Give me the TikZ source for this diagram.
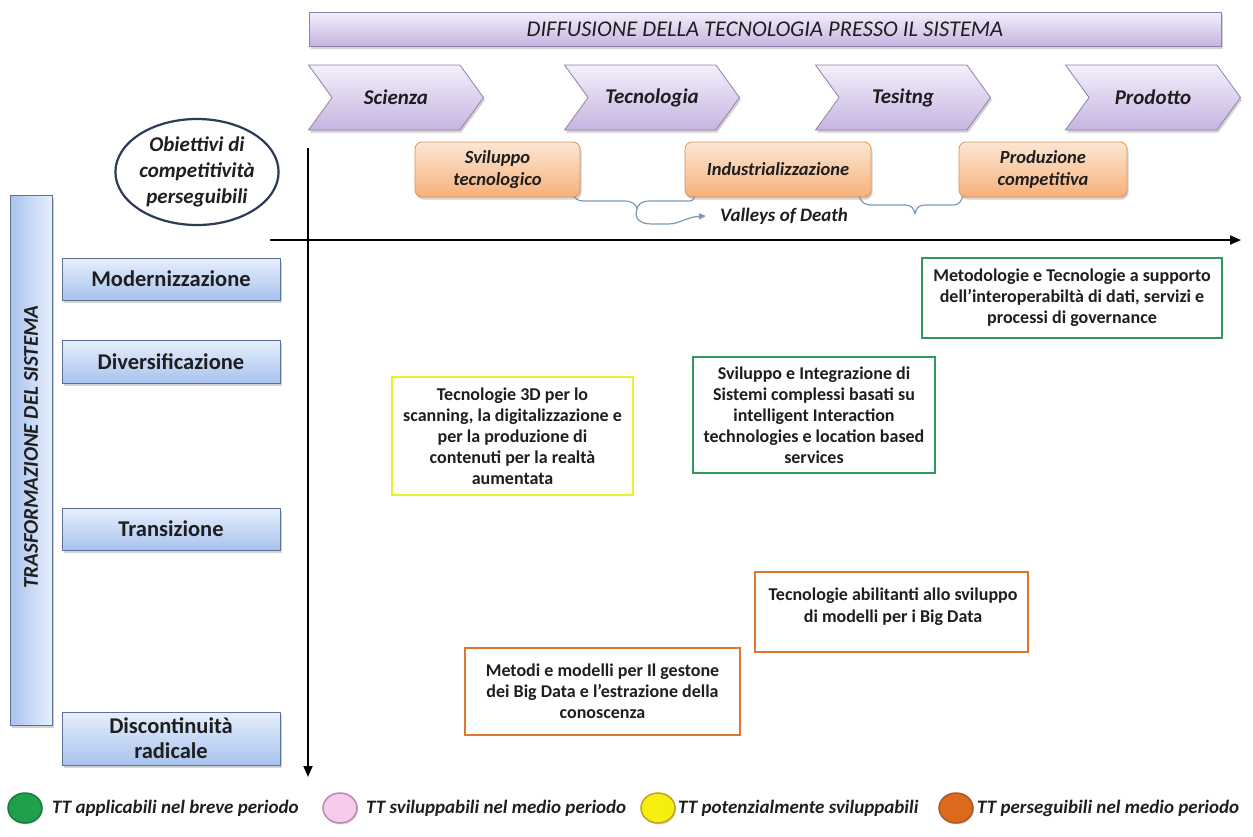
\documentclass[tikz,border=0pt]{standalone}
\usepackage{fontspec}
\setmainfont{Carlito}
\usetikzlibrary{shapes.symbols,shapes.geometric,shadows,arrows.meta,calc}
\definecolor{lavtop}{HTML}{F4EFFB}
\definecolor{lavbot}{HTML}{C6B4E0}
\definecolor{lavedge}{HTML}{8E82A8}
\definecolor{peachtop}{HTML}{FDE7D4}
\definecolor{peachbot}{HTML}{F6B07A}
\definecolor{peachedge}{HTML}{D7935D}
\definecolor{bluetop}{HTML}{E6EFFD}
\definecolor{bluebot}{HTML}{A8C3EE}
\definecolor{blueedge}{HTML}{5D7194}
\definecolor{navy}{HTML}{2B3A55}
\definecolor{ttgreen}{HTML}{2E9A5C}
\definecolor{ttyellow}{HTML}{EAF02C}
\definecolor{ttorange}{HTML}{DF772F}
\definecolor{bracecol}{HTML}{7E98B4}
\definecolor{txt}{HTML}{1E1E1E}
\definecolor{lgreen}{HTML}{1FA04A}
\definecolor{lgreenedge}{HTML}{1A7A3A}
\definecolor{lpink}{HTML}{F7CBEA}
\definecolor{lpinkedge}{HTML}{B98AB0}
\definecolor{lyellow}{HTML}{F6EE10}
\definecolor{lyellowedge}{HTML}{C2A41A}
\definecolor{lorange}{HTML}{DD6A1C}
\definecolor{lorangeedge}{HTML}{A75A2A}
\begin{document}
\begin{tikzpicture}[x=1pt,y=-1pt,
  softshadow/.style={drop shadow={opacity=0.35,shadow xshift=1.5pt,shadow yshift=-2.5pt}},
  lavbar/.style={draw=lavedge,line width=0.8pt,top color=lavtop,bottom color=lavbot,inner sep=0pt,softshadow,text=txt},
  chev/.style={lavbar,shape=signal,signal to=east,signal from=west,signal pointer angle=108,minimum width=175pt,minimum height=65pt,font=\fontsize{21}{24}\selectfont\bfseries\itshape},
  peachbox/.style={draw=peachedge,line width=0.8pt,rounded corners=7pt,top color=peachtop,bottom color=peachbot,minimum height=55pt,inner sep=0pt,align=center,softshadow,text=txt,font=\fontsize{18.5}{22}\selectfont\bfseries\itshape},
  bluebox/.style={draw=blueedge,line width=0.8pt,top color=bluetop,bottom color=bluebot,minimum width=218pt,inner sep=0pt,align=center,softshadow,text=txt,font=\fontsize{22.5}{25}\selectfont\bfseries},
  ttbox/.style={draw=#1,line width=2.5pt,fill=white,inner sep=0pt,align=center,text=txt,font=\fontsize{18}{21}\selectfont\bfseries},
  ttlabel/.style={text=txt,align=center,font=\fontsize{18}{22}\selectfont\bfseries},
  axis/.style={line width=1.8pt,black,-{Triangle[length=11pt,width=9pt]}},
  bracepath/.style={draw=bracecol,line width=1.2pt},
  legdot/.style={shape=ellipse,minimum width=34pt,minimum height=30pt,inner sep=0pt,line width=1.5pt,drop shadow={opacity=0.3,shadow xshift=1pt,shadow yshift=-1.5pt}},
  legtxt/.style={anchor=west,inner sep=0pt,text=txt,font=\fontsize{19}{21}\selectfont\bfseries\itshape}
]
\useasboundingbox (0,0) rectangle (1253,836);

% title bar
\node[lavbar,minimum width=912pt,minimum height=34pt,font=\fontsize{22.5}{24}\selectfont\itshape] (title) at (765,29) {DIFFUSIONE DELLA TECNOLOGIA PRESSO IL SISTEMA};

% chevrons
\node[chev] (scienza) at (396,97.5) {\raisebox{-2pt}{Scienza}};
\node[chev] (tecno) at (652,97.5) {\raisebox{3pt}{Tecnologia}};
\node[chev] (testing) at (903,97.5) {\raisebox{-2pt}{Tesitng}};
\node[chev] (prodotto) at (1153,97.5) {\raisebox{-2pt}{Prodotto}};

% objectives ellipse
\node[shape=ellipse,draw=navy,line width=2.2pt,fill=white,minimum width=156pt,minimum height=106pt,inner sep=0pt,align=center,text=txt,font=\fontsize{21}{26}\selectfont\bfseries\itshape] (obiettivi) at (197,172) {Obiettivi di\\competitività\\perseguibili};

% phase boxes
\node[peachbox,minimum width=165pt] (svil) at (497.5,169.5) {Sviluppo\\tecnologico};
\node[peachbox,minimum width=186pt] (indu) at (778,169.5) {Industrializzazione};
\node[peachbox,minimum width=168pt] (prod) at (1043,169.5) {Produzione\\competitiva};

% braces (valleys of death)
\coordinate (b1l) at ($(svil.south east)+(-6,-1)$);
\coordinate (b1r) at ($(indu.south west)+(10,-1)$);
\coordinate (b1t) at (637,209);
\path[bracepath] (b1l) .. controls +(2,5) and +(-6,0) .. (588,201) -- (624,201) .. controls (632,201) and (636,204) .. (b1t);
\path[bracepath] (b1r) .. controls +(-2,5) and +(6,0) .. (686,201) -- (650,201) .. controls (642,201) and (638,204) .. (b1t);
\node[font=\fontsize{19}{21}\selectfont\bfseries\itshape,text=txt,anchor=west,inner sep=0pt] (valleys) at (720,216) {Valleys of Death};
\draw[bracepath,-{Triangle[length=7pt,width=6pt]}] (b1t) .. controls (634,218) and (639,224) .. (652,224) -- (668,224) .. controls (680,224) and (686,217) .. ([xshift=-14pt]valleys.west);
\coordinate (b2l) at ($(indu.south east)+(-12,-1)$);
\coordinate (b2r) at ($(prod.south west)+(4,-1)$);
\coordinate (b2t) at (915,214);
\path[bracepath] (b2l) .. controls +(2,7) and +(-6,0) .. (872,205) -- (905,205) .. controls (911,205) and (914,208) .. (b2t);
\path[bracepath] (b2r) .. controls +(-2,7) and +(6,0) .. (952,205) -- (925,205) .. controls (919,205) and (916,208) .. (b2t);

% axes
\coordinate (vtop) at (308,148);
\coordinate (vbot) at (308,777);
\coordinate (hleft) at (270,240);
\coordinate (hright) at (1241,240);
\draw[axis] (vtop) -- (vbot);
\draw[axis] (hleft) -- (hright);

% left vertical bar
\node[draw=blueedge,line width=0.8pt,left color=bluebot,right color=bluetop,inner sep=0pt,softshadow,minimum width=42pt,minimum height=530pt] (trasf) at (31,460) {};
\node[rotate=90,text=txt,font=\fontsize{21}{23}\selectfont\bfseries\itshape,inner sep=0pt] (trasflabel) at ($(trasf.center)+(0,-13)$) {TRASFORMAZIONE DEL SISTEMA};

% levels
\node[bluebox,minimum height=42pt] (moder) at (171,279) {Modernizzazione};
\node[bluebox,minimum height=43pt] (diver) at (171,361.5) {Diversificazione};
\node[bluebox,minimum height=42pt] (trans) at (171,529) {Transizione};
\node[bluebox,minimum height=53pt] (disco) at (171,738.5) {Discontinuità\\radicale};

% technology boxes
\node[ttbox=ttgreen,minimum width=300pt,minimum height=80pt] (g1) at (1072,298) {Metodologie e Tecnologie a supporto\\dell’interoperabiltà di dati, servizi e\\processi di governance};
\node[ttbox=ttgreen,minimum width=242pt,minimum height=116pt] (g2) at (814,415) {Sviluppo e Integrazione di\\Sistemi complessi basati su\\intelligent Interaction\\technologies e location based\\services};
\node[ttbox=ttyellow,minimum width=241pt,minimum height=118pt] (y1) at (512.5,436) {Tecnologie 3D per lo\\scanning, la digitalizzazione e\\per la produzione di\\contenuti per la realtà\\aumentata};
\node[ttbox=ttorange,minimum width=273pt,minimum height=80pt] (o1) at (891.5,612) {};
\node[ttlabel] (o1t) at (893,607) {Tecnologie abilitanti allo sviluppo\\di modelli per i Big Data};
\node[ttbox=ttorange,minimum width=275pt,minimum height=87pt] (o2) at (602.5,691.5) {Metodi e modelli per Il gestone\\dei Big Data e l’estrazione della\\conoscenza};

% legend
\node[legdot,fill=lgreen,draw=lgreenedge] (d1) at (25,808) {};
\node[legtxt] (l1) at (52,808) {TT applicabili nel breve periodo};
\node[legdot,fill=lpink,draw=lpinkedge] (d2) at (340,808) {};
\node[legtxt] (l2) at (366,808) {TT sviluppabili nel medio periodo};
\node[legdot,fill=lyellow,draw=lyellowedge] (d3) at (658,808) {};
\node[legtxt] (l3) at (678,808) {TT potenzialmente sviluppabili};
\node[legdot,fill=lorange,draw=lorangeedge] (d4) at (956,808) {};
\node[legtxt] (l4) at (977,808) {TT perseguibili nel medio periodo};
\end{tikzpicture}
\end{document}
